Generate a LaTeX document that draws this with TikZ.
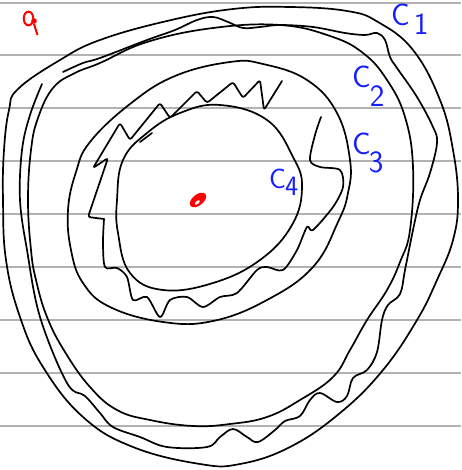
\documentclass[tikz,border=0pt]{standalone}
\usepackage{fontspec}
\begin{document}
\begin{tikzpicture}[x=1pt,y=-1pt,
  curve/.style={black, line width=1.7pt, line join=round, line cap=round},
  paper/.style={draw=black!30, line width=1.2pt},
  lbl/.style={text={rgb,255:red,20;green,30;blue,255}, font=\sffamily\fontsize{31}{31}\selectfont, inner sep=0pt, anchor=base west},
  redmark/.style={red, line width=2pt}]
\useasboundingbox (0,0) rectangle (461,470);
\fill[white] (0,0) rectangle (461,470);
\foreach \y in {3,55,108,161,214,267,320,373,426} \draw[paper] (0,\y) -- (461,\y);
% C1 outer
\draw[curve] plot[smooth cycle, tension=0.7] coordinates {(18,89) (60,60) (100,40) (167,21) (233,9) (290,7) (347,11) (378,22) (413,50) (440,100) (453,150) (458,200) (453,240) (437,280) (417,320) (383,370) (340,413) (290,447) (240,464) (200,464) (133,447) (83,417) (43,367) (20,317) (6,260) (3,200) (4,150) (9,110)};
% wavy curve
\draw[curve] plot[smooth, tension=0.6] coordinates {(63,72) (83,63) (100,58) (147,40) (175,30) (197,20) (213,17) (228,22) (243,28) (260,27) (280,25) (313,27) (345,33) (365,35) (377,33) (385,40) (390,57) (397,68) (417,97) (433,127) (437,143) (430,173) (420,200) (413,230) (405,270) (400,294) (388,305) (382,320) (377,352) (367,370) (353,378) (347,396) (337,402) (320,393) (310,400) (300,416) (285,421) (275,430) (258,442) (247,437) (233,429) (220,437) (207,447) (167,447) (140,437) (113,427) (100,413) (85,396) (67,383) (40,317) (27,250) (20,200) (22,150) (30,115) (42,84)};
% C2
\draw[curve] plot[smooth cycle, tension=0.7] coordinates {(53,88) (75,73) (100,63) (147,42) (213,28) (280,25) (330,36) (363,53) (387,80) (405,117) (413,167) (410,230) (400,262) (387,290) (367,320) (350,350) (333,377) (300,400) (267,417) (230,424) (193,426) (150,420) (117,410) (90,387) (65,352) (47,317) (36,280) (31,250) (28,200) (31,150) (38,118)};
% C3
\draw[curve] plot[smooth cycle, tension=0.7] coordinates {(230,62) (263,64) (307,80) (337,113) (350,160) (348,193) (338,222) (313,267) (267,300) (213,321) (163,322) (110,307) (83,283) (71,250) (68,210) (76,172) (90,142) (130,104) (175,76)};
% C4
\draw[curve] plot[smooth cycle, tension=0.7] coordinates {(220,105) (267,120) (293,157) (302,187) (292,225) (260,260) (213,283) (163,290) (130,273) (118,233) (117,200) (123,160) (147,133) (180,113)};
% jagged curve
\draw[curve, rounded corners=2.5pt] (282,81) -- (264,110) -- (260,80) -- (243,98) -- (233,82) -- (207,103) -- (197,91) -- (170,118) -- (160,103) -- (130,140) -- (120,123) -- (93,168) -- (108,158) -- (88,217) -- (104,219);
\draw[curve] plot[smooth, tension=0.5] coordinates {(104,219) (103,243) (105,267) (117,268) (127,277) (133,300) (147,297) (160,317) (170,300) (187,297) (203,307) (220,297) (237,293) (257,270) (267,267) (283,270) (297,250) (307,227) (313,230) (333,207) (343,187) (340,170) (320,167) (310,160) (315,135) (321,117)};
\draw[curve] (152,133) -- (140,142);
% red marks
\draw[redmark] (28.5,18.5) ellipse (4.8 and 6.8);
\draw[redmark] (34,24) -- (37.5,35);
\fill[red] (34,21) circle (2.8);
\fill[red, rotate around={39:(198,200)}] (198,200) ellipse (9.5 and 5.5);
\fill[white, rotate around={39:(198,200)}] (196,201.5) ellipse (3 and 1.5);
% labels
\node[lbl] (c1) at (391,26) {C\hspace{4pt}\raisebox{-9pt}{1}};
\node[lbl] (c2) at (352,88) {C\hspace{-1pt}\raisebox{-19pt}{2}};
\node[lbl] (c3) at (352,155) {C\hspace{-2pt}\raisebox{-18pt}{3}};
\node[lbl, font=\sffamily\fontsize{28}{28}\selectfont] (c4) at (269,188) {C\hspace{-1pt}\raisebox{-8pt}{4}};
\end{tikzpicture}
\end{document}
